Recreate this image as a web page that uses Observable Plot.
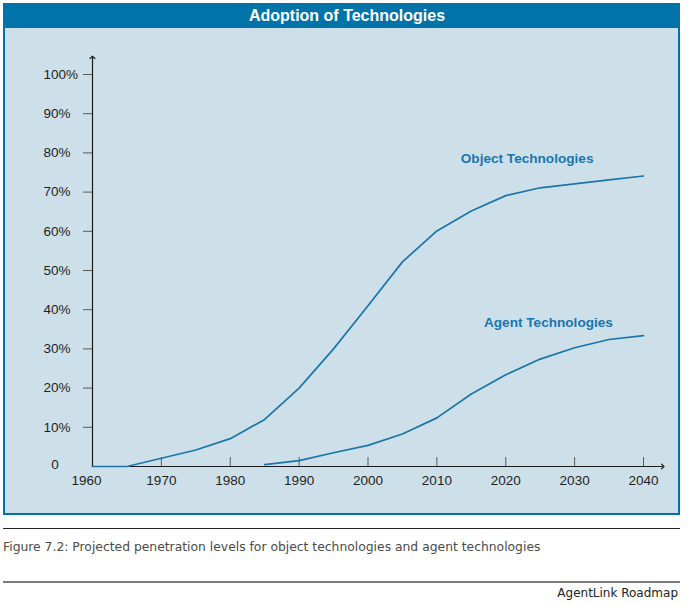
<!DOCTYPE html>
<html>
<head>
<meta charset="utf-8">
<script src="https://cdn.jsdelivr.net/npm/d3@7"></script>
<script src="https://cdn.jsdelivr.net/npm/@observablehq/plot@0.6"></script>
<style>
html,body{margin:0;padding:0;background:#fff;width:691px;height:605px;overflow:hidden}
#wrap{position:relative;width:691px;height:605px}
#panel{position:absolute;left:3px;top:3px;width:677px;height:512px;box-sizing:border-box;border:2.5px solid #0073a9;background:#cde0ea}
#titlebar{position:absolute;left:3px;top:3px;width:677px;height:25px;background:#0073a9}
#title{position:absolute;left:347px;top:15.5px;transform:translate(-50%,-50%);color:#fff;font:bold 16px "Liberation Sans",Arial,sans-serif;white-space:nowrap}
#chart{position:absolute;left:0;top:0}
#rule1{position:absolute;left:3px;top:527.5px;width:677px;height:1px;background:#222}
#caption{position:absolute;left:3px;top:539.5px;line-height:15px;font:12.35px "DejaVu Sans",sans-serif;color:#4a4a4a;white-space:nowrap}
#rule2{position:absolute;left:3px;top:581px;width:677px;height:2px;background:#7a7a7a}
#footer{position:absolute;right:13px;top:586px;line-height:16px;font:12px "DejaVu Sans",sans-serif;color:#222;white-space:nowrap}
</style>
</head>
<body>
<div id="wrap">
  <div id="panel"></div>
  <div id="titlebar"></div>
  <div id="title"></div>
  <div id="chart"></div>
  <div id="rule1"></div>
  <div id="caption"></div>
  <div id="rule2"></div>
  <div id="footer"></div>
</div>
<script>
// ---- data ----
const titleText = "Adoption of Technologies";
const captionText = "Figure 7.2: Projected penetration levels for object technologies and agent technologies";
const footerText = "AgentLink Roadmap";

const objectYears  = [1960, 1965, 1970, 1975, 1980, 1985, 1990, 1995, 2000, 2005, 2010, 2015, 2020, 2025, 2030, 2035, 2040];
const objectValues = [0, 0, 2.1, 4.2, 7.1, 12, 20, 30, 41, 52.2, 60.1, 65.2, 69.1, 71.1, 72.1, 73.1, 74.1];

const agentYears  = [1985, 1990, 1995, 2000, 2005, 2010, 2015, 2020, 2025, 2030, 2035, 2040];
const agentValues = [0.5, 1.5, 3.5, 5.4, 8.3, 12.4, 18.5, 23.4, 27.4, 30.3, 32.4, 33.4];

const seriesLabels = [
  {name: "Object Technologies", year: 2023.1, value: 78.5},
  {name: "Agent Technologies",  year: 2026.2, value: 36.6}
];

const xTicks = [1960, 1970, 1980, 1990, 2000, 2010, 2020, 2030, 2040];
const yTicks = [0, 10, 20, 30, 40, 50, 60, 70, 80, 90, 100];
const xDomain = [1960, 2040];
const yDomain = [0, 100];
const axisEnds = {x: 2042.8, y: 104.4};

// ---- build ----
const objectData = objectYears.map((y, i) => ({year: y, value: objectValues[i]}));
const agentData = agentYears.map((y, i) => ({year: y, value: agentValues[i]}));
const axisLines = [
  {x1: xDomain[0], y1: yDomain[0], x2: axisEnds.x, y2: yDomain[0]},
  {x1: xDomain[0], y1: yDomain[0], x2: xDomain[0], y2: axisEnds.y}
];

const lineColor = "#1b75a8";
const labelColor = "#1a75ae";
const tickColor = "#5a5a5a";
const textColor = "#231f20";
const font = "'Liberation Sans', Arial, sans-serif";

const chart = Plot.plot({
  width: 691,
  height: 520,
  marginLeft: 92,
  marginRight: 48,
  marginTop: 74,
  marginBottom: 54,
  x: {domain: xDomain, label: null},
  y: {domain: yDomain, label: null},
  style: {background: "transparent", fontFamily: font, color: textColor, overflow: "visible"},
  marks: [
    // y tick marks
    Plot.axisY(yTicks.filter(d => d > 0), {
      tickSize: 9, tickPadding: 0, tickFormat: () => "", stroke: tickColor, label: null
    }),
    // y tick labels (left aligned)
    Plot.axisY(yTicks.filter(d => d > 0), {
      tickSize: 0, tickPadding: 0, textAnchor: "start", dx: -49,
      tickFormat: d => d + "%", fontSize: 13.5, fill: textColor, label: null
    }),
    Plot.axisY(yTicks.filter(d => d === 0), {
      tickSize: 0, tickPadding: 0, textAnchor: "end", dx: -33.7, dy: -2,
      tickFormat: d => String(d), fontSize: 13.5, fill: textColor, label: null
    }),
    // x tick marks (pointing up)
    Plot.axisX(xTicks.slice(1), {
      tickSize: 9, tickPadding: 8.5, dy: -9,
      tickFormat: () => "", stroke: tickColor, label: null
    }),
    Plot.axisX(xTicks.slice(1), {
      tickSize: 0, tickPadding: 8.5,
      tickFormat: d => String(d), fontSize: 13.5, fill: textColor, label: null
    }),
    Plot.axisX(xTicks.slice(0, 1), {
      tickSize: 0, tickPadding: 8.5, dx: -6,
      tickFormat: d => String(d), fontSize: 13.5, fill: textColor, label: null
    }),
    Plot.link(axisLines, {x1: "x1", y1: "y1", x2: "x2", y2: "y2", stroke: "#1a1a1a", strokeWidth: 1.2, markerEnd: "arrow"}),
    Plot.line(objectData, {x: "year", y: "value", stroke: lineColor, strokeWidth: 1.7}),
    Plot.line(agentData, {x: "year", y: "value", stroke: lineColor, strokeWidth: 1.7}),
    Plot.text(seriesLabels, {x: "year", y: "value", text: "name", fill: labelColor, fontWeight: "bold", fontSize: 13.6, fontFamily: font})
  ]
});
document.getElementById("chart").appendChild(chart);
document.getElementById("title").textContent = titleText;
document.getElementById("caption").textContent = captionText;
document.getElementById("footer").textContent = footerText;
</script>
</body>
</html>
